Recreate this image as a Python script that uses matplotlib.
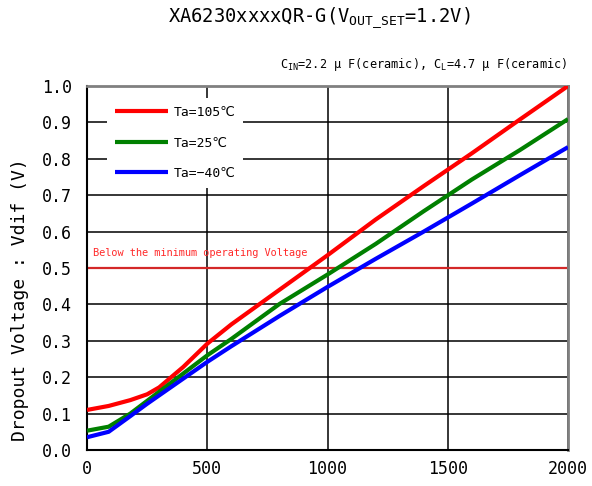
'''
    Dropout voltage vs output current, XA6230 (Vout_set = 1.2V)
'''
import matplotlib
matplotlib.use('Agg')
import matplotlib.pyplot as plt

plt.rcParams['font.family'] = ['DejaVu Sans Mono', 'DejaVu Sans', 'Noto Sans CJK JP']
plt.rcParams['mathtext.fontset'] = 'custom'
plt.rcParams['mathtext.rm'] = 'DejaVu Sans Mono'
plt.rcParams['mathtext.it'] = 'DejaVu Sans Mono'

# output current, mA
current = [0, 90, 180, 250, 300, 400, 500, 600, 800, 1000, 1200, 1400, 1600, 1800, 2000]

# dropout voltage, V
vdif_105 = [0.110, 0.121, 0.137, 0.153, 0.172, 0.228, 0.292, 0.345, 0.440, 0.535,
            0.633, 0.725, 0.815, 0.908, 1.000]
vdif_25 = [0.053, 0.064, 0.100, 0.135, 0.160, 0.210, 0.260, 0.305, 0.401, 0.482,
           0.566, 0.656, 0.743, 0.824, 0.909]
vdif_m40 = [0.035, 0.050, 0.093, 0.127, 0.150, 0.196, 0.242, 0.285, 0.368, 0.448,
            0.525, 0.600, 0.677, 0.755, 0.832]

labels = ['Ta=105℃', 'Ta=25℃', 'Ta=−40℃']
colors = ['#ff0000', '#008000', '#0000ff']

min_voltage = 0.5
x_ticks = [0, 500, 1000, 1500, 2000]
y_ticks = [0.0, 0.1, 0.2, 0.3, 0.4, 0.5, 0.6, 0.7, 0.8, 0.9, 1.0]


fig = plt.figure(figsize=(5.92, 4.86), dpi=100)
ax = fig.add_axes([0.147, 0.0741, 0.8125, 0.749])

for y, lab, c in zip([vdif_105, vdif_25, vdif_m40], labels, colors):
    ax.plot(current, y, color=c, lw=3.0, label=lab, zorder=3, solid_capstyle='butt')

ax.axhline(min_voltage, color='#d42828', lw=1.6, zorder=2.5)
ax.text(25, min_voltage + 0.04, 'Below the minimum operating Voltage', color='#ff2a2a',
        fontsize=7.4, va='center', ha='left', zorder=4)

ax.set_xlim(0, 2000)
ax.set_ylim(0, 1.0)
ax.set_xticks(x_ticks)
ax.set_yticks(y_ticks)
ax.set_yticklabels([f'{v:.1f}' for v in y_ticks])
ax.tick_params(length=0, labelsize=12)
ax.tick_params(axis='y', pad=11)
ax.tick_params(axis='x', pad=7)
ax.grid(True, color='black', lw=1.1)
ax.set_axisbelow(True)

for s in ['left', 'bottom']:
    ax.spines[s].set_color('black')
    ax.spines[s].set_linewidth(1.5)
for s in ['top', 'right']:
    ax.spines[s].set_color('#808080')
    ax.spines[s].set_linewidth(2)

fig.text(0.034, 0.383, 'Dropout Voltage : Vdif (V)', fontsize=13, rotation=90,
         ha='center', va='center')

leg = ax.legend(loc='upper left', bbox_to_anchor=(0.0414, 0.967), fontsize=9.4,
                frameon=True, fancybox=False, edgecolor='none', facecolor='white',
                framealpha=1, handlelength=4.1, handletextpad=0.4, labelspacing=1.35,
                borderpad=0.6, borderaxespad=0)

fig.text(0.539, 0.963, r'XA6230xxxxQR-G(V$_{\mathrm{OUT\_SET}}$=1.2V)', fontsize=13.5,
         ha='center', va='center')
fig.text(0.958, 0.868, r'C$_{\mathrm{IN}}$=2.2 μ F(ceramic), C$_{\mathrm{L}}$=4.7 μ F(ceramic)',
         fontsize=8.6, ha='right', va='center')

fig.savefig('out.png', dpi=100)
